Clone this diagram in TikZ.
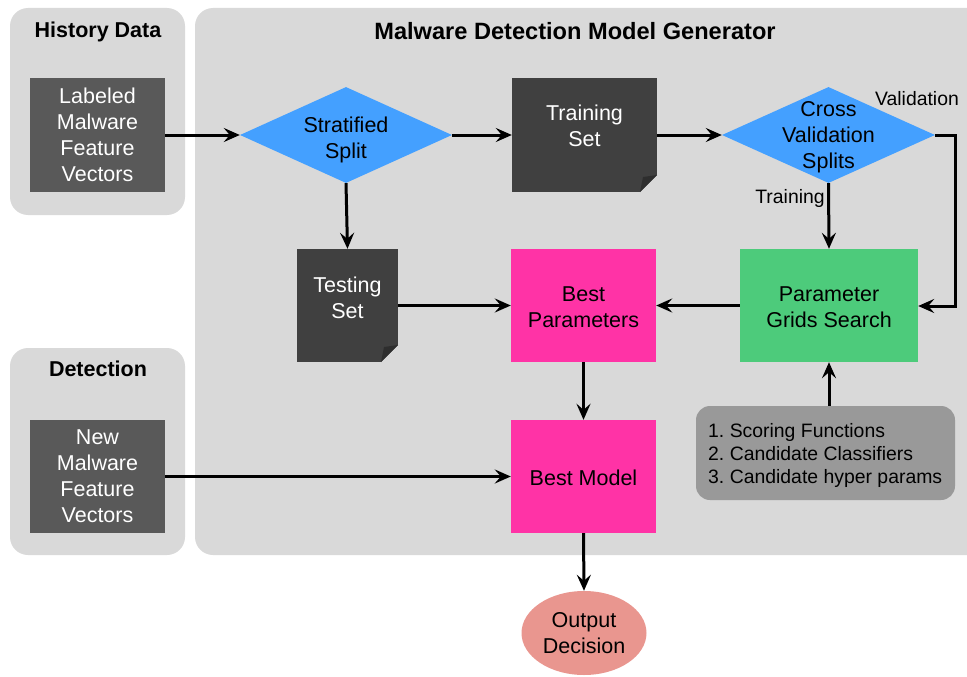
\documentclass[tikz,border=0pt]{standalone}
\usepackage{fontspec}
\setmainfont{Liberation Sans}
\usetikzlibrary{arrows.meta,shapes.geometric}
\definecolor{panelgray}{HTML}{D9D9D9}
\definecolor{boxgray}{HTML}{595959}
\definecolor{darkbox}{HTML}{404040}
\definecolor{foldc}{HTML}{2E2E2E}
\definecolor{diablue}{HTML}{44A0FF}
\definecolor{gridgreen}{HTML}{4DCB7B}
\definecolor{bestmag}{HTML}{FF33A6}
\definecolor{outsalmon}{HTML}{E9968F}
\definecolor{listgray}{HTML}{999999}
\frenchspacing
\begin{document}
\begin{tikzpicture}[x=1pt,y=-1pt,
  panel/.style={fill=panelgray, rounded corners=18pt},
  maintext/.style={font=\fontsize{21.5}{26}\selectfont, align=center},
  titletext/.style={font=\bfseries\fontsize{21.5}{26}\selectfont},
  smalltext/.style={font=\fontsize{19.4}{23}\selectfont},
  inbox/.style={maintext, fill=boxgray, text=white, inner sep=0pt},
  dogear/.style={fill=darkbox, inner sep=0pt,
    path picture={
      \fill[panelgray] ([xshift=-17pt]path picture bounding box.south east) --
        (path picture bounding box.south east) --
        ([yshift=17pt]path picture bounding box.south east) -- cycle;
      \fill[foldc] ([xshift=-17pt]path picture bounding box.south east) --
        ([xshift=-14pt,yshift=15pt]path picture bounding box.south east) --
        ([yshift=17pt]path picture bounding box.south east) -- cycle;
    }},
  whitetext/.style={maintext, text=white, inner sep=0pt},
  plainbox/.style={maintext, inner sep=0pt},
  diam/.style={diamond, fill=diablue, inner sep=0pt, aspect=2.2},
  conn/.style={line width=3pt, -{Stealth[length=16pt,width=14pt,inset=6pt]}}
]
\useasboundingbox (0,0) rectangle (967,677);

% panels
\fill[panel] (10,8) rectangle (185,215);
\fill[panel] (10,348) rectangle (185,555);
\fill[panel] (195,8) rectangle (990,555);
\node[titletext] (thist) at (98,32) {History Data};
\node[titletext] (tdet) at (98,369) {Detection};
\node[titletext, font=\bfseries\fontsize{23.6}{28}\selectfont] (tmain) at (575,31) {Malware Detection Model Generator};

% boxes
\node[inbox, minimum width=135pt, minimum height=114pt] (lab) at (97.5,135) {Labeled\\Malware\\Feature\\Vectors};
\node[inbox, minimum width=135pt, minimum height=113pt] (newm) at (97.5,476.5) {New\\Malware\\Feature\\Vectors};

\node[diam, minimum width=212pt, minimum height=96pt] (strat) at (346,135) {};
\node[plainbox] (strattxt) at (346,140) {Stratified\\Split};

\node[dogear, minimum width=145pt, minimum height=114pt] (train) at (584.5,135) {};
\node[whitetext] (traintxt) at (584.5,126) {Training\\Set};

\node[diam, minimum width=213pt, minimum height=96pt] (cv) at (828.5,135) {};
\node[plainbox] (cvtxt) at (828.5,137) {Cross\\Validation\\Splits};

\node[dogear, minimum width=101pt, minimum height=113pt] (test) at (347.5,305.5) {};
\node[whitetext] (testtxt) at (347.5,298) {Testing\\Set};
\node[plainbox, fill=bestmag, minimum width=145pt, minimum height=113pt] (bestp) at (583.5,305.5) {};
\node[plainbox] (bestptxt) at (583.5,307) {Best\\Parameters};
\node[plainbox, fill=gridgreen, minimum width=178pt, minimum height=113pt] (grid) at (829,305.5) {};
\node[plainbox] (gridtxt) at (829,307) {Parameter\\Grids Search};

\node[smalltext, align=left, fill=listgray, rounded corners=14pt, minimum width=259pt, minimum height=94pt, inner sep=0pt, text width=245pt] (list) at (825.5,453) {};
\node[smalltext, align=left, inner sep=0pt, anchor=west] (listtxt) at (708,455) {1. Scoring Functions\\2. Candidate Classifiers\\3. Candidate hyper params};

\node[plainbox, fill=bestmag, minimum width=145pt, minimum height=113pt] (bestm) at (583.5,476.5) {};
\node[plainbox] (bestmtxt) at (583.5,477.5) {Best Model};
\node[ellipse, maintext, fill=outsalmon, minimum width=125pt, minimum height=84pt, inner sep=0pt] (out) at (584,633) {Output\\Decision};

% labels
\node[smalltext] (lval) at (917,99) {Validation};
\node[smalltext] (ltrain) at (790,198) {Training};

% connectors
\draw[conn] (lab.east) -- (strat.west);
\draw[conn] (strat.east) -- (train.west);
\draw[conn] (train.east) -- (cv.west);
\coordinate (vr1) at (955,135);
\coordinate (vr2) at (955,306);
\draw[conn] (cv.east) -- (vr1) -- (vr2) -- (grid.east |- vr2);
\draw[conn] (cv.south) -- (grid.north);
\draw[conn] (strat.south) -- (test.north);
\draw[conn] (test.east) -- (bestp.west);
\draw[conn] (grid.west) -- (bestp.east);
\draw[conn] (list.north -| grid.south) -- (grid.south);
\draw[conn] (bestp.south) -- (bestm.north);
\draw[conn] (newm.east) -- (bestm.west);
\draw[conn] (bestm.south) -- (out.north);
\end{tikzpicture}
\end{document}
